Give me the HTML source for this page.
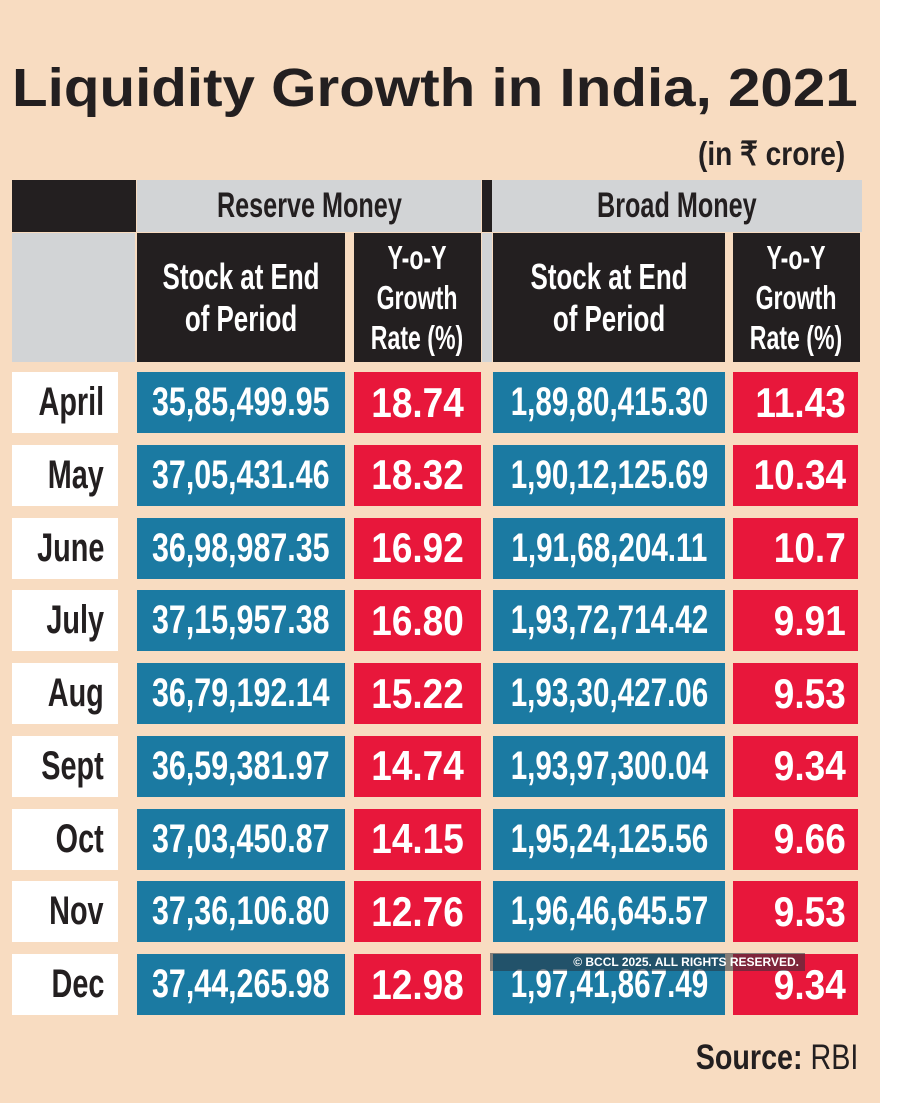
<!DOCTYPE html>
<html><head><style>
body{margin:0;width:900px;height:1103px;background:#fff;position:relative;overflow:hidden;font-family:"Liberation Sans",sans-serif;}
#bg{position:absolute;left:0;top:0;width:880px;height:1103px;background:#f8dcc1;}
.a{position:absolute;display:flex;align-items:center;justify-content:center;font-weight:bold;box-sizing:border-box;}
.a span{display:inline-block;transform:scaleX(0.8);white-space:nowrap;}
.bl{background:#1b7aa2;color:#fff;font-size:40px;}
.rd{background:#e8173b;color:#fff;font-size:42px;}
.wh{background:#fff;color:#231f20;font-size:40px;}
.k{background:#231f20;color:#fff;}
.g{background:#d2d4d6;color:#231f20;}
</style></head><body>
<div id="bg"></div>
<div class="a" style="left:12px;top:52px;width:846px;height:72px;font-size:54px;color:#231f20;justify-content:flex-start"><span style="transform-origin:left;transform:scaleX(1.08)">Liquidity Growth in India, 2021</span></div>
<div class="a" style="left:660px;top:132px;width:185px;height:42px;font-size:33px;color:#231f20;justify-content:flex-end"><span style="transform-origin:right;transform:scaleX(0.85)">(in ₹ crore)</span></div>

<div class="a k" style="left:12px;top:180px;width:124px;height:52px"></div>
<div class="a g" style="left:137px;top:180px;width:344px;height:52px;font-size:35px"><span style="transform:scaleX(0.72)">Reserve Money</span></div>
<div class="a k" style="left:482px;top:180px;width:10px;height:52px"></div>
<div class="a g" style="left:492px;top:180px;width:370px;height:52px;font-size:35px"><span style="transform:scaleX(0.72)">Broad Money</span></div>
<div class="a g" style="left:12px;top:233px;width:123px;height:129px"></div>
<div class="a k" style="left:137px;top:233px;width:208px;height:129px;font-size:36px;line-height:42px;text-align:center"><span style="transform:scaleX(0.72)">Stock at End<br>of Period</span></div>
<div class="a k" style="left:354px;top:233px;width:127px;height:129px;font-size:33px;line-height:40px;text-align:center"><span style="transform:scaleX(0.7)">Y-o-Y<br>Growth<br>Rate (%)</span></div>
<div class="a" style="left:482px;top:233px;width:10px;height:129px;background:#d2d4d6"></div>
<div class="a k" style="left:493px;top:233px;width:232px;height:129px;font-size:36px;line-height:42px;text-align:center"><span style="transform:scaleX(0.72)">Stock at End<br>of Period</span></div>
<div class="a k" style="left:733px;top:233px;width:127px;height:129px;font-size:33px;line-height:40px;text-align:center"><span style="transform:scaleX(0.7)">Y-o-Y<br>Growth<br>Rate (%)</span></div>

<div id="rows"></div>
<script>
var d=[["April","35,85,499.95","18.74","1,89,80,415.30","11.43"],["May","37,05,431.46","18.32","1,90,12,125.69","10.34"],["June","36,98,987.35","16.92","1,91,68,204.11","10.7"],["July","37,15,957.38","16.80","1,93,72,714.42","9.91"],["Aug","36,79,192.14","15.22","1,93,30,427.06","9.53"],["Sept","36,59,381.97","14.74","1,93,97,300.04","9.34"],["Oct","37,03,450.87","14.15","1,95,24,125.56","9.66"],["Nov","37,36,106.80","12.76","1,96,46,645.57","9.53"],["Dec","37,44,265.98","12.98","1,97,41,867.49","9.34"]];
var h="";d.forEach(function(r,i){var t=372+i*72.75;
h+='<div class="a wh" style="left:12px;top:'+t+'px;width:106px;height:61px;justify-content:flex-end;padding-right:14px"><span style="transform-origin:right;transform:scaleX(0.72)">'+r[0]+'</span></div>';
h+='<div class="a bl" style="left:137px;top:'+t+'px;width:208px;height:61px"><span style="transform:scaleX(0.76)">'+r[1]+'</span></div>';
h+='<div class="a rd" style="left:354px;top:'+t+'px;width:127px;height:61px"><span style="transform:scaleX(0.88)">'+r[2]+'</span></div>';
h+='<div class="a bl" style="left:493px;top:'+t+'px;width:232px;height:61px"><span style="transform:scaleX(0.74)">'+r[3]+'</span></div>';
h+='<div class="a rd" style="left:733px;top:'+t+'px;width:125px;height:61px;justify-content:flex-end;padding-right:12px"><span style="transform-origin:right;transform:scaleX(0.88)">'+r[4]+'</span></div>';});
document.getElementById("rows").innerHTML=h;
</script>
<div class="a" style="left:490px;top:953px;width:315px;height:18px;background:rgba(40,50,60,0.55);color:#fff;font-size:12px;justify-content:flex-end;padding-right:6px">© BCCL 2025. ALL RIGHTS RESERVED.</div>
<div class="a" style="left:640px;top:1035px;width:218px;height:46px;font-size:35px;color:#231f20;justify-content:flex-end"><span style="transform-origin:right;transform:scaleX(0.82)">Source: <b style="font-weight:normal">RBI</b></span></div>
</body></html>
